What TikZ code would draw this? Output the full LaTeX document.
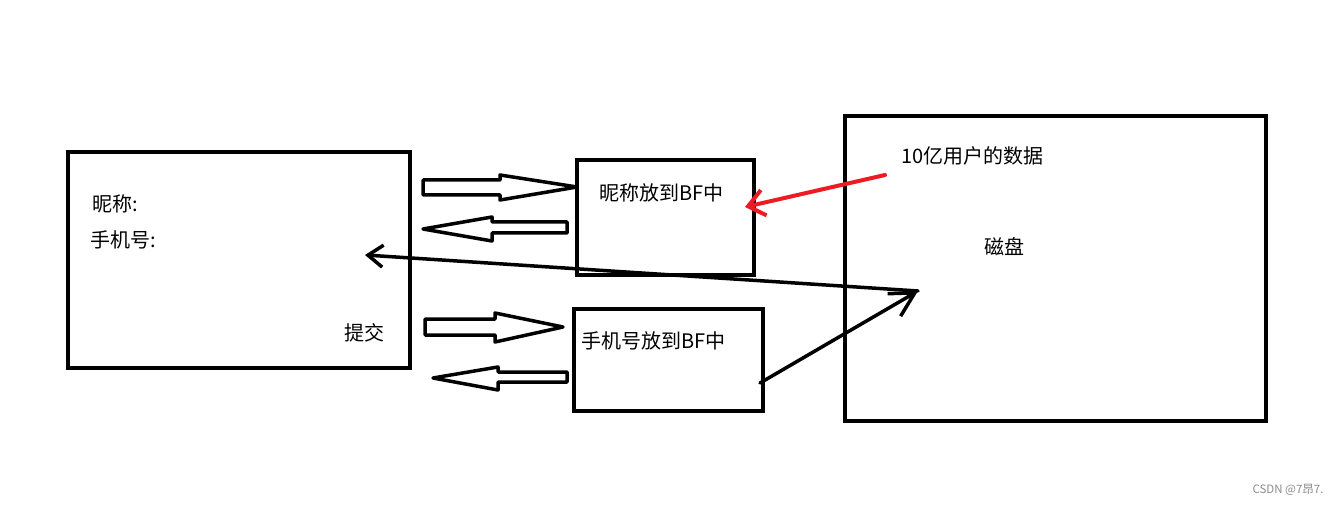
\documentclass[tikz,border=0pt]{standalone}
\usepackage{fontspec}
\setmainfont{Noto Sans CJK SC}
\usetikzlibrary{arrows.meta}
\begin{document}
\begin{tikzpicture}[x=1pt,y=-1pt,
  box/.style={draw, line width=4pt, inner sep=0pt},
  lbl/.style={inner sep=0pt, font=\fontsize{20}{22}\selectfont},
  hollow/.style={draw, line width=3.5pt, line join=round, fill=white},
  thinarrow/.style={line width=3.5pt, line cap=round, -{Straight Barb[length=15pt,width=22pt,line width=3.5pt]}}
]
\useasboundingbox[fill=white] (0,0) rectangle (1339,505);
% boxes
\node[box, minimum width=342pt, minimum height=216pt] (form) at (239,260) {};
\node[box, minimum width=177pt, minimum height=115pt] (bf1) at (665.5,217.5) {};
\node[box, minimum width=189pt, minimum height=102pt] (bf2) at (668.5,360) {};
\node[box, minimum width=421pt, minimum height=305pt] (disk) at (1055.5,268.5) {};
% texts
\node[lbl, anchor=west] (nick) at (92,204) {昵称:};
\node[lbl, anchor=west] (phone) at (90,240) {手机号:};
\node[lbl] (submit) at (364,333) {提交};
\node[lbl, anchor=west] (t1) at (599,193) {昵称放到BF中};
\node[lbl, anchor=west] (t2) at (581,341) {手机号放到BF中};
\node[lbl, anchor=west] (data) at (901,156) {10亿用户的数据};
\node[lbl] (disklbl) at (1004,247) {磁盘};
\node[inner sep=0pt, text=black!45, font=\fontsize{11.5}{13}\selectfont] (wm) at (1288,490) {CSDN @7昂7.};
% hollow arrows
\draw[hollow] (423,180) -- (500,180) -- (500,175) -- (577,187) -- (500,200) -- (500,195) -- (423,195) -- cycle;
\draw[hollow] (567,222) -- (492,222) -- (492,217) -- (423,229) -- (492,241) -- (492,233) -- (567,233) -- cycle;
\draw[hollow] (425,319) -- (495,319) -- (495,313) -- (563,327) -- (495,342) -- (495,335) -- (425,335) -- cycle;
\draw[hollow] (567,372) -- (498,372) -- (498,367) -- (433,378) -- (498,390) -- (498,382) -- (567,382) -- cycle;
% line arrows
\coordinate (hub) at (918,291);
\coordinate (formin) at (365,255);
\coordinate (bf2out) at (760,383);
\coordinate (redstart) at (885,175);
\coordinate (redtip) at (745,207);
\draw[thinarrow] (hub) -- (formin);
\draw[line width=3.5pt, line cap=round, -{Straight Barb[length=24pt,width=26pt,line width=3.5pt]}] (bf2out) -- (hub);
\draw[draw={rgb,255:red,237;green,28;blue,36}, line width=4pt, line cap=round, -{Straight Barb[length=16pt,width=26pt,line width=4pt]}] (redstart) -- (redtip);
\end{tikzpicture}
\end{document}
